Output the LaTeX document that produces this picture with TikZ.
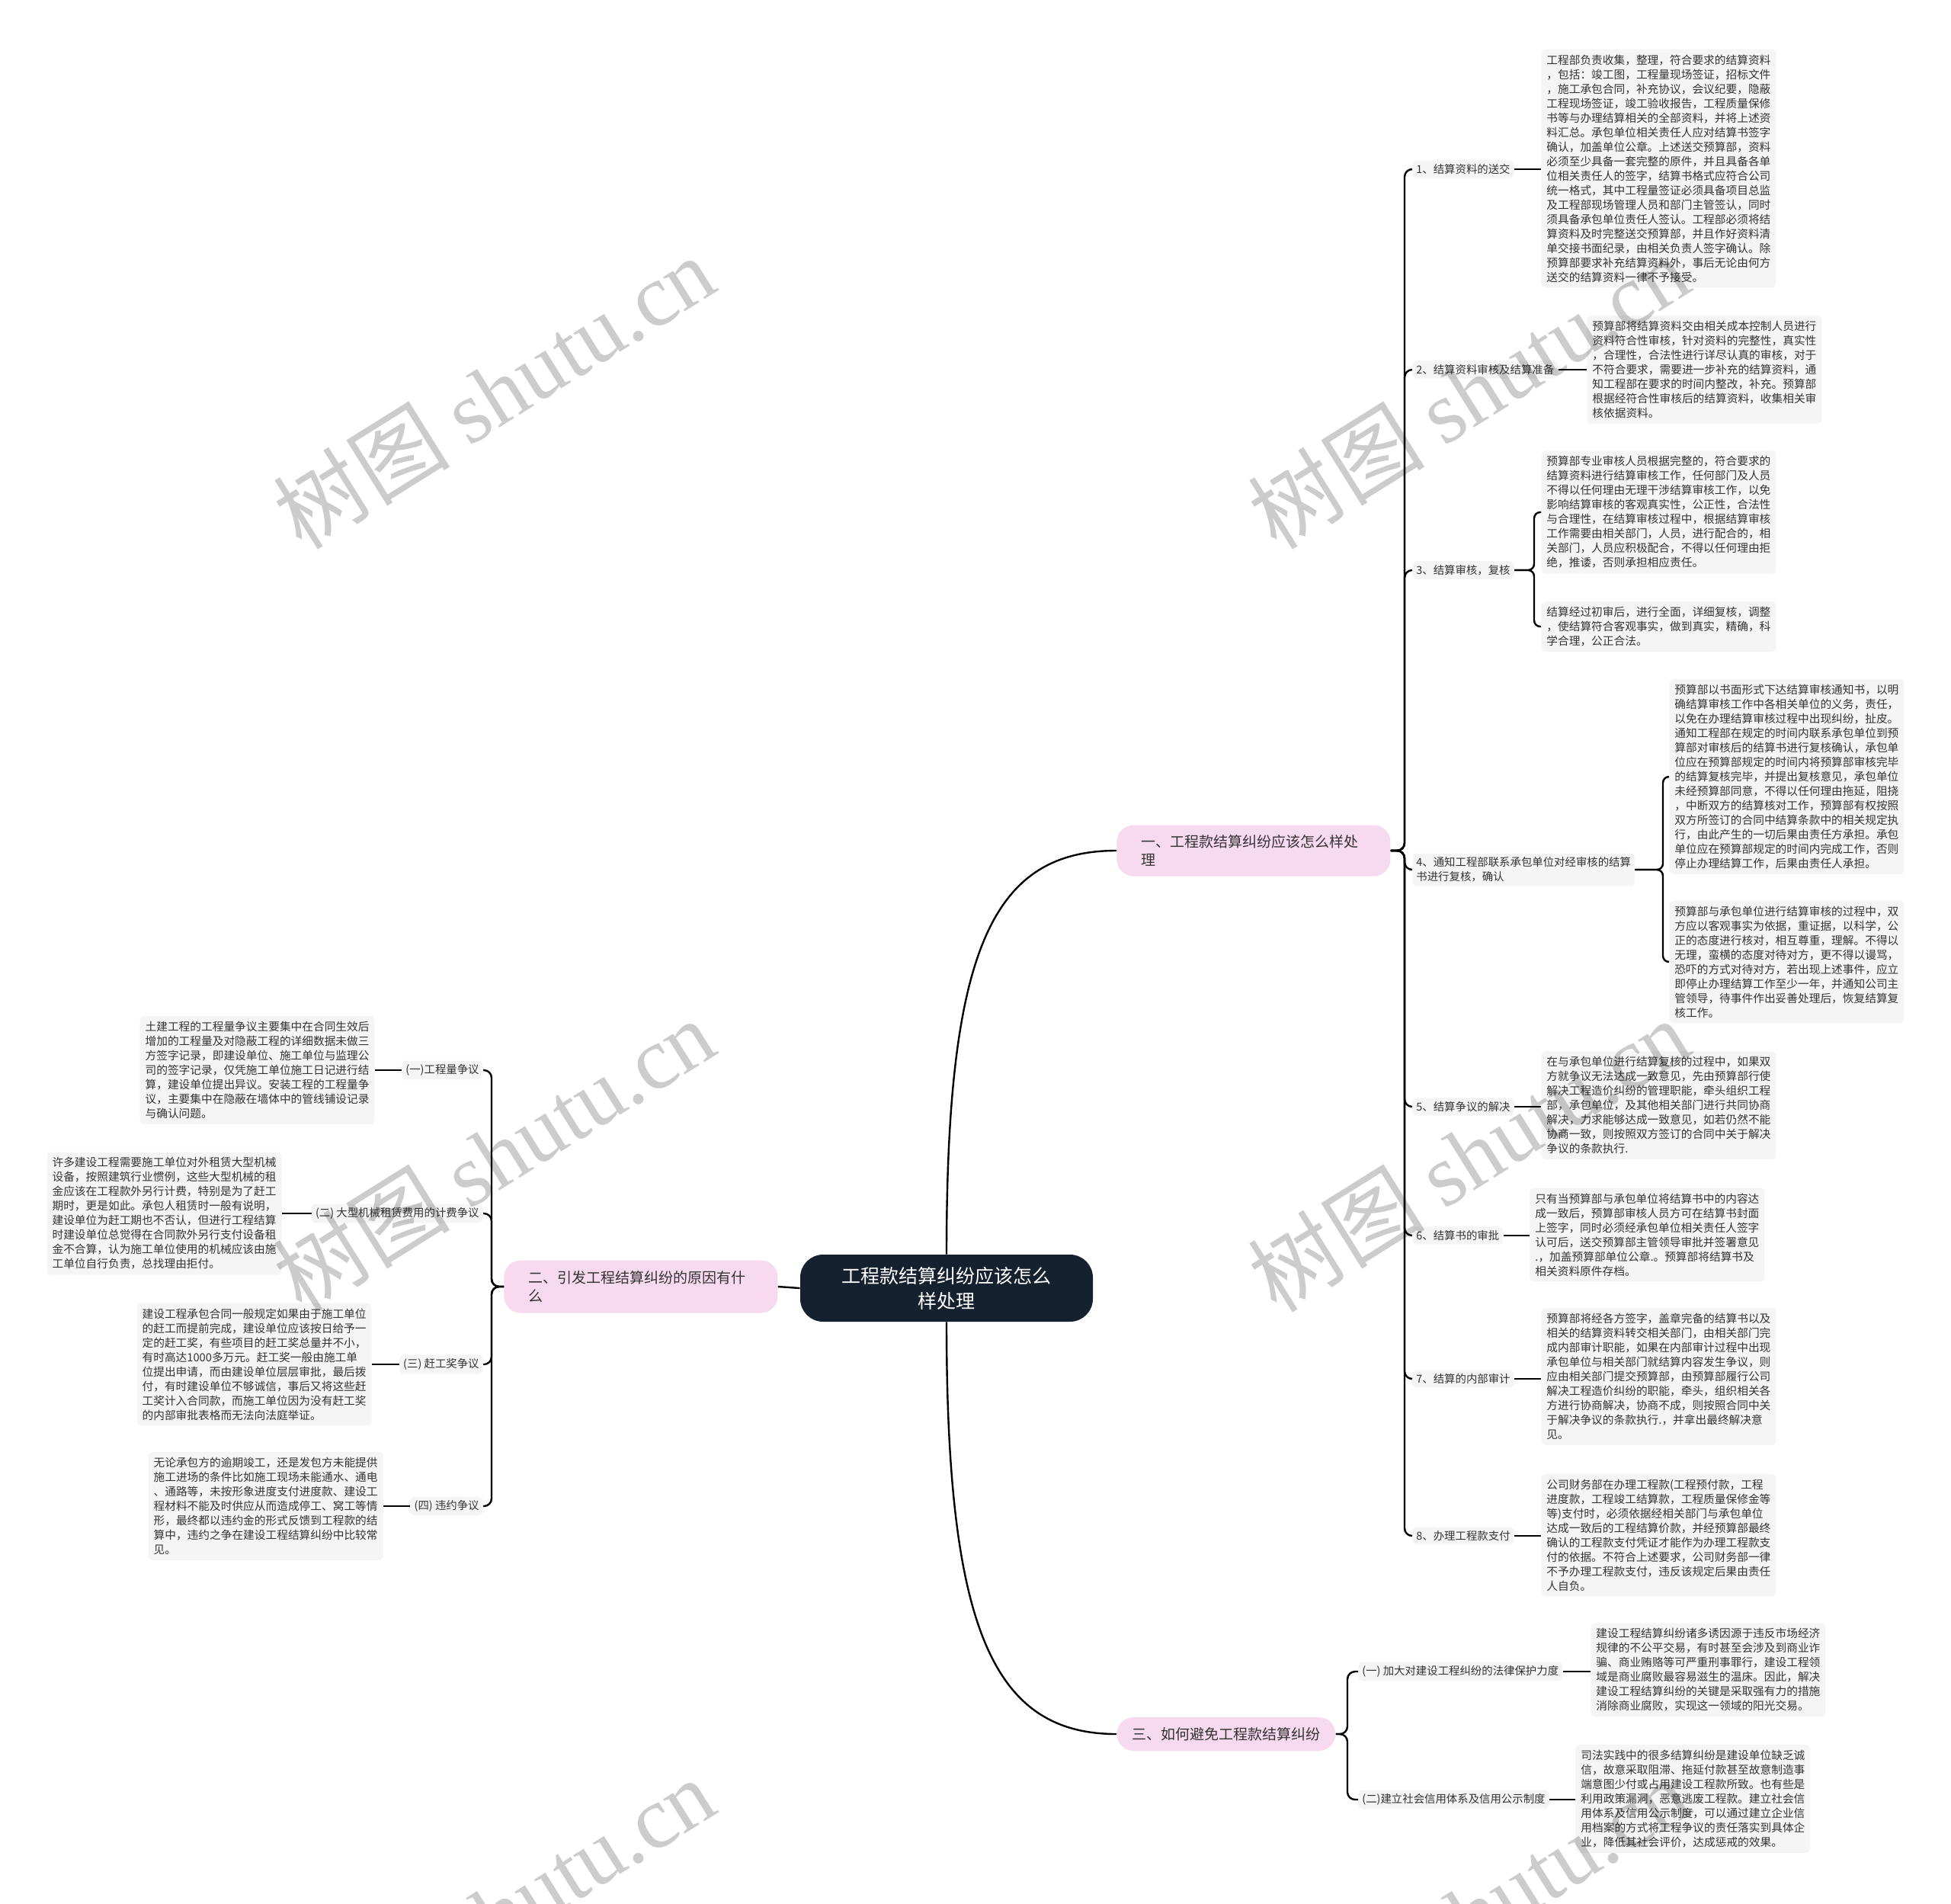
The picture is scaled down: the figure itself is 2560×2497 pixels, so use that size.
\documentclass[tikz,border=0pt]{standalone}
\usepackage{fontspec}
\setmainfont{Noto Sans CJK SC}
\newfontfamily\wmlat{Liberation Serif}
\definecolor{rootc}{HTML}{15212E}
\definecolor{secc}{HTML}{F7D9F0}
\definecolor{boxc}{HTML}{F5F5F5}
\definecolor{txt}{HTML}{333333}
\tikzset{
 conn/.style={draw=black, line width=1.2pt},
 detail/.style={fill=boxc, rounded corners=3pt, align=left, inner xsep=3.5pt, inner ysep=3.5pt, text=txt, font=\fontsize{7.35}{9.5}\selectfont},
 lbl/.style={fill=boxc, rounded corners=3pt, align=left, inner xsep=2.5pt, inner ysep=2.5pt, text=txt, font=\fontsize{7.2}{9.5}\selectfont},
 secn/.style={fill=secc, rounded corners=11pt, align=left, text=txt, font=\fontsize{9.5}{12}\selectfont},
 rootn/.style={fill=rootc, rounded corners=15pt, align=center, text=white, font=\fontsize{12.5}{16.5}\selectfont},
 wm/.style={rotate=32, text=black, text opacity=0.2, font=\fontsize{58}{60}\selectfont}
}
\begin{document}
\begin{tikzpicture}[x=0.5pt,y=-0.5pt]
\useasboundingbox (0,0) rectangle (2560,2497);
\fill[white] (0,0) rectangle (2560,2497);

% root and sections
\node[rootn, minimum width=192pt, minimum height=44pt] (root) at (1242,1690) {工程款结算纠纷应该怎么\\样处理};
\node[secn, anchor=west, text width=147.5pt, inner xsep=16pt, inner ysep=5pt, minimum height=33.5pt] (s1) at (1465,1116) {一、工程款结算纠纷应该怎么样处\\理};
\node[secn, anchor=west, text width=147.5pt, inner xsep=16pt, inner ysep=5pt, minimum height=34.5pt] (s2) at (661,1688) {二、引发工程结算纠纷的原因有什\\么};
\node[secn, anchor=west, inner xsep=10pt, minimum height=22pt] (s3) at (1465,2275) {三、如何避免工程款结算纠纷};

\draw[conn] (root.north) .. controls (1242,1250) and (1300,1116) .. (s1.west);
\draw[conn] (root.south) .. controls (1242,2130) and (1300,2275) .. (s3.west);
\draw[conn] (root.west) -- (s2.east);

% section 1 labels
\node[lbl, anchor=west] (c1) at (1853,222) {1、结算资料的送交};
\node[lbl, anchor=west] (c2) at (1853,485) {2、结算资料审核及结算准备};
\node[lbl, anchor=west] (c3) at (1853,748) {3、结算审核，复核};
\node[lbl, anchor=west] (c4) at (1853,1141) {4、通知工程部联系承包单位对经审核的结算\\书进行复核，确认};
\node[lbl, anchor=west] (c5) at (1853,1452) {5、结算争议的解决};
\node[lbl, anchor=west] (c6) at (1853,1621) {6、结算书的审批};
\node[lbl, anchor=west] (c7) at (1853,1809) {7、结算的内部审计};
\node[lbl, anchor=west] (c8) at (1853,2015) {8、办理工程款支付};

\foreach \c in {c1,c2,c3,c4,c5,c6,c7,c8}
  \draw[conn, rounded corners=5pt] (s1.east) -- (1843,1116) |- (\c.west);

% section 1 details
\node[detail, anchor=west] (b1) at (2022,221) {工程部负责收集，整理，符合要求的结算资料\\，包括：竣工图，工程量现场签证，招标文件\\，施工承包合同，补充协议，会议纪要，隐蔽\\工程现场签证，竣工验收报告，工程质量保修\\书等与办理结算相关的全部资料，并将上述资\\料汇总。承包单位相关责任人应对结算书签字\\确认，加盖单位公章。上述送交预算部，资料\\必须至少具备一套完整的原件，并且具备各单\\位相关责任人的签字，结算书格式应符合公司\\统一格式，其中工程量签证必须具备项目总监\\及工程部现场管理人员和部门主管签认，同时\\须具备承包单位责任人签认。工程部必须将结\\算资料及时完整送交预算部，并且作好资料清\\单交接书面纪录，由相关负责人签字确认。除\\预算部要求补充结算资料外，事后无论由何方\\送交的结算资料一律不予接受。};
\node[detail, anchor=west] (b2) at (2082,485) {预算部将结算资料交由相关成本控制人员进行\\资料符合性审核，针对资料的完整性，真实性\\，合理性，合法性进行详尽认真的审核，对于\\不符合要求，需要进一步补充的结算资料，通\\知工程部在要求的时间内整改，补充。预算部\\根据经符合性审核后的结算资料，收集相关审\\核依据资料。};
\node[detail, anchor=west] (b3a) at (2022,672) {预算部专业审核人员根据完整的，符合要求的\\结算资料进行结算审核工作，任何部门及人员\\不得以任何理由无理干涉结算审核工作，以免\\影响结算审核的客观真实性，公正性，合法性\\与合理性，在结算审核过程中，根据结算审核\\工作需要由相关部门，人员，进行配合的，相\\关部门，人员应积极配合，不得以任何理由拒\\绝，推诿，否则承担相应责任。};
\node[detail, anchor=west] (b3b) at (2022,822) {结算经过初审后，进行全面，详细复核，调整\\，使结算符合客观事实，做到真实，精确，科\\学合理，公正合法。};
\node[detail, anchor=west] (b4a) at (2190,1019) {预算部以书面形式下达结算审核通知书，以明\\确结算审核工作中各相关单位的义务，责任，\\以免在办理结算审核过程中出现纠纷，扯皮。\\通知工程部在规定的时间内联系承包单位到预\\算部对审核后的结算书进行复核确认，承包单\\位应在预算部规定的时间内将预算部审核完毕\\的结算复核完毕，并提出复核意见，承包单位\\未经预算部同意，不得以任何理由拖延，阻挠\\，中断双方的结算核对工作，预算部有权按照\\双方所签订的合同中结算条款中的相关规定执\\行，由此产生的一切后果由责任方承担。承包\\单位应在预算部规定的时间内完成工作，否则\\停止办理结算工作，后果由责任人承担。};
\node[detail, anchor=west] (b4b) at (2190,1262) {预算部与承包单位进行结算审核的过程中，双\\方应以客观事实为依据，重证据，以科学，公\\正的态度进行核对，相互尊重，理解。不得以\\无理，蛮横的态度对待对方，更不得以谩骂，\\恐吓的方式对待对方，若出现上述事件，应立\\即停止办理结算工作至少一年，并通知公司主\\管领导，待事件作出妥善处理后，恢复结算复\\核工作。};
\node[detail, anchor=west] (b5) at (2022,1450) {在与承包单位进行结算复核的过程中，如果双\\方就争议无法达成一致意见，先由预算部行使\\解决工程造价纠纷的管理职能，牵头组织工程\\部，承包单位，及其他相关部门进行共同协商\\解决，力求能够达成一致意见，如若仍然不能\\协商一致，则按照双方签订的合同中关于解决\\争议的条款执行.};
\node[detail, anchor=west] (b6) at (2007,1620) {只有当预算部与承包单位将结算书中的内容达\\成一致后，预算部审核人员方可在结算书封面\\上签字，同时必须经承包单位相关责任人签字\\认可后，送交预算部主管领导审批并签署意见\\.，加盖预算部单位公章.。预算部将结算书及\\相关资料原件存档。};
\node[detail, anchor=west] (b7) at (2022,1806) {预算部将经各方签字，盖章完备的结算书以及\\相关的结算资料转交相关部门，由相关部门完\\成内部审计职能，如果在内部审计过程中出现\\承包单位与相关部门就结算内容发生争议，则\\应由相关部门提交预算部，由预算部履行公司\\解决工程造价纠纷的职能，牵头，组织相关各\\方进行协商解决，协商不成，则按照合同中关\\于解决争议的条款执行.，并拿出最终解决意\\见。};
\node[detail, anchor=west] (b8) at (2022,2014) {公司财务部在办理工程款(工程预付款，工程\\进度款，工程竣工结算款，工程质量保修金等\\等)支付时，必须依据经相关部门与承包单位\\达成一致后的工程结算价款，并经预算部最终\\确认的工程款支付凭证才能作为办理工程款支\\付的依据。不符合上述要求，公司财务部一律\\不予办理工程款支付，违反该规定后果由责任\\人自负。};

\draw[conn] (c1.east) -- (b1.west |- c1.east);
\draw[conn] (c2.east) -- (b2.west);
\draw[conn, rounded corners=4pt] (c3.east) -- (2013,748) |- (b3a.west);
\draw[conn, rounded corners=4pt] (c3.east) -- (2013,748) |- (b3b.west);
\draw[conn, rounded corners=4pt] (c4.east) -- (2182,1141) |- (b4a.west);
\draw[conn, rounded corners=4pt] (c4.east) -- (2182,1141) |- (b4b.west);
\draw[conn] (c5.east) -- (b5.west |- c5.east);
\draw[conn] (c6.east) -- (b6.west |- c6.east);
\draw[conn] (c7.east) -- (b7.west |- c7.east);
\draw[conn] (c8.east) -- (b8.west |- c8.east);

% section 3
\node[lbl, anchor=west] (t1) at (1782,2193) {(一) 加大对建设工程纠纷的法律保护力度};
\node[lbl, anchor=west] (t2) at (1782,2361) {(二)建立社会信用体系及信用公示制度};
\draw[conn, rounded corners=5pt] (s3.east) -- (1768,2275) |- (t1.west);
\draw[conn, rounded corners=5pt] (s3.east) -- (1768,2275) |- (t2.west);
\node[detail, anchor=west] (d1) at (2087,2191) {建设工程结算纠纷诸多诱因源于违反市场经济\\规律的不公平交易，有时甚至会涉及到商业诈\\骗、商业贿赂等可严重刑事罪行，建设工程领\\域是商业腐败最容易滋生的温床。因此，解决\\建设工程结算纠纷的关键是采取强有力的措施\\消除商业腐败，实现这一领域的阳光交易。};
\node[detail, anchor=west] (d2) at (2067,2360) {司法实践中的很多结算纠纷是建设单位缺乏诚\\信，故意采取阻滞、拖延付款甚至故意制造事\\端意图少付或占用建设工程款所致。也有些是\\利用政策漏洞，恶意逃废工程款。建立社会信\\用体系及信用公示制度，可以通过建立企业信\\用档案的方式将工程争议的责任落实到具体企\\业，降低其社会评价，达成惩戒的效果。};
\draw[conn] (t1.east) -- (d1.west |- t1.east);
\draw[conn] (t2.east) -- (d2.west |- t2.east);

% section 2 (left)
\node[lbl, anchor=east] (l1) at (634,1404) {(一)工程量争议};
\node[lbl, anchor=east] (l2) at (634,1592) {(二) 大型机械租赁费用的计费争议};
\node[lbl, anchor=east] (l3) at (634,1790) {(三) 赶工奖争议};
\node[lbl, anchor=east] (l4) at (634,1976) {(四) 违约争议};
\foreach \l in {l1,l2,l3,l4}
  \draw[conn, rounded corners=5pt] (s2.west) -- (645,1688) |- (\l.east);
\node[detail, anchor=east] (e1) at (492,1404) {土建工程的工程量争议主要集中在合同生效后\\增加的工程量及对隐蔽工程的详细数据未做三\\方签字记录，即建设单位、施工单位与监理公\\司的签字记录，仅凭施工单位施工日记进行结\\算，建设单位提出异议。安装工程的工程量争\\议，主要集中在隐蔽在墙体中的管线铺设记录\\与确认问题。};
\node[detail, anchor=east] (e2) at (370,1592) {许多建设工程需要施工单位对外租赁大型机械\\设备，按照建筑行业惯例，这些大型机械的租\\金应该在工程款外另行计费，特别是为了赶工\\期时，更是如此。承包人租赁时一般有说明，\\建设单位为赶工期也不否认，但进行工程结算\\时建设单位总觉得在合同款外另行支付设备租\\金不合算，认为施工单位使用的机械应该由施\\工单位自行负责，总找理由拒付。};
\node[detail, anchor=east] (e3) at (488,1790) {建设工程承包合同一般规定如果由于施工单位\\的赶工而提前完成，建设单位应该按日给予一\\定的赶工奖，有些项目的赶工奖总量并不小，\\有时高达1000多万元。赶工奖一般由施工单\\位提出申请，而由建设单位层层审批，最后拨\\付，有时建设单位不够诚信，事后又将这些赶\\工奖计入合同款，而施工单位因为没有赶工奖\\的内部审批表格而无法向法庭举证。};
\node[detail, anchor=east] (e4) at (503,1976) {无论承包方的逾期竣工，还是发包方未能提供\\施工进场的条件比如施工现场未能通水、通电\\、通路等，未按形象进度支付进度款、建设工\\程材料不能及时供应从而造成停工、窝工等情\\形，最终都以违约金的形式反馈到工程款的结\\算中，违约之争在建设工程结算纠纷中比较常\\见。};
\draw[conn] (l1.west) -- (e1.east |- l1.west);
\draw[conn] (l2.west) -- (e2.east |- l2.west);
\draw[conn] (l3.west) -- (e3.east |- l3.west);
\draw[conn] (l4.west) -- (e4.east |- l4.west);

% watermarks
\node[wm] (wm1) at (648,514) {树图 {\wmlat shutu.cn}};
\node[wm] (wm2) at (1927,514) {树图 {\wmlat shutu.cn}};
\node[wm] (wm3) at (648,1515) {树图 {\wmlat shutu.cn}};
\node[wm] (wm4) at (1927,1515) {树图 {\wmlat shutu.cn}};
\node[wm] (wm5) at (648,2511) {树图 {\wmlat shutu.cn}};
\node[wm] (wm6) at (1927,2511) {树图 {\wmlat shutu.cn}};
\end{tikzpicture}
\end{document}
